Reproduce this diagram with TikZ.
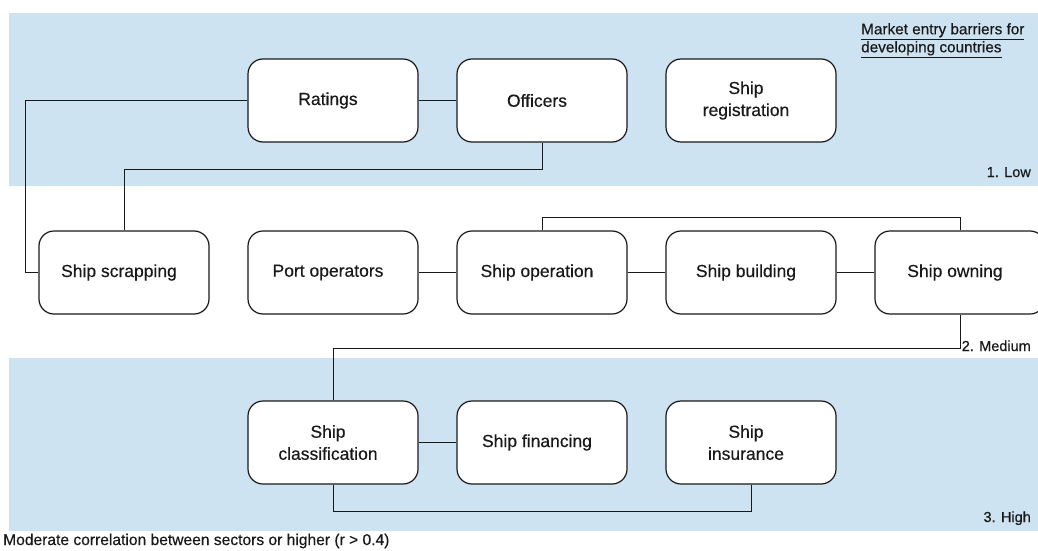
\documentclass[tikz,border=0pt]{standalone}
\usepackage{fontspec}
\setmainfont{Liberation Sans}[FakeBold=0.4]
\definecolor{band}{RGB}{206,227,242}
\definecolor{ink}{RGB}{25,25,25}
\newcommand{\sh}{\hspace*{-10pt}}
\tikzset{
  sector/.style={draw=ink, line width=1.2pt, fill=white, rounded corners=15pt,
    minimum width=170pt, minimum height=83pt, align=center, inner sep=0pt,
    text=ink, font=\fontsize{17.5}{22}\selectfont},
  link/.style={draw=ink, line width=1pt},
  levellabel/.style={anchor=base east, inner sep=0pt, text=ink, font=\fontsize{14.5}{18}\selectfont},
}
\begin{document}
\begin{tikzpicture}[x=1pt,y=-1pt]
\clip (0,0) rectangle (1038,551);
\fill[white] (0,0) rectangle (1038,551);
\fill[band] (9,13) rectangle (1038,186);
\fill[band] (9,358) rectangle (1038,531);

% row 1
\node[sector] (rat) at (333,100.5) {\sh Ratings};
\node[sector] (off) at (542,100.5) {\sh Officers};
\node[sector] (reg) at (751,100.5) {\sh Ship\\\sh registration};
% row 2
\node[sector] (scr) at (124,272.5) {\sh Ship scrapping};
\node[sector] (port) at (333,272.5) {\sh Port operators};
\node[sector] (op) at (542,272.5) {\sh Ship operation};
\node[sector] (build) at (751,272.5) {\sh Ship building};
\node[sector] (own) at (960,272.5) {\sh Ship owning};
% row 3
\node[sector] (cls) at (333,442.5) {\sh Ship\\\sh classification};
\node[sector] (fin) at (542,442.5) {\sh Ship financing};
\node[sector] (ins) at (751,442.5) {\sh Ship\\\sh insurance};

% connectors
\draw[link] (rat.west) -- (25,100.5) -- (25,272.5) -- (scr.west);
\draw[link] (rat.east) -- (off.west);
\draw[link] (off.south) -- (542,169) -- (124,169) -- (scr.north);
\draw[link] (port.east) -- (op.west);
\draw[link] (op.east) -- (build.west);
\draw[link] (build.east) -- (own.west);
\draw[link] (op.north) -- (542,217) -- (960,217) -- (own.north);
\draw[link] (own.south) -- (960,348) -- (333,348) -- (cls.north);
\draw[link] (cls.east) -- (fin.west);
\draw[link] (cls.south) -- (333,511) -- (751,511) -- (ins.south);

% labels
\node[anchor=north west, align=left, inner sep=0pt, text=ink,
  font=\fontsize{15.3}{18}\selectfont] (title) at (861,23)
  {\underline{Market entry barriers for}\\\underline{developing countries}};
\node[levellabel] (low) at (1031,177) {1. Low};
\node[levellabel] (med) at (1031,351) {2. Medium};
\node[levellabel] (high) at (1031,522) {3. High};
\node[anchor=base west, inner sep=0pt, text=ink,
  font=\fontsize{15.6}{18}\selectfont] (foot) at (3,545)
  {Moderate correlation between sectors or higher (r > 0.4)};
\end{tikzpicture}
\end{document}
